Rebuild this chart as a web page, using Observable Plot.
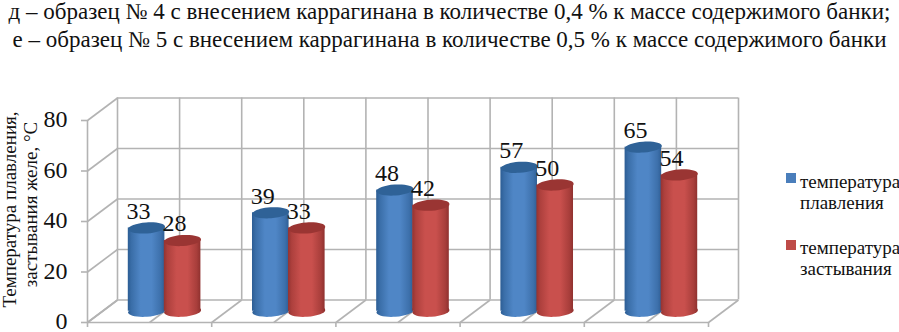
<!DOCTYPE html>
<html><head><meta charset="utf-8">
<script src="https://cdn.jsdelivr.net/npm/d3@7"></script>
<script src="https://cdn.jsdelivr.net/npm/@observablehq/plot@0.6"></script>
<style>
html,body{margin:0;padding:0;background:#fff;overflow:hidden}
#wrap{position:relative;width:899px;height:332px;font-family:"Liberation Serif",serif;color:#111}
#head{position:absolute;left:0;top:-2px;width:899px;text-align:center;font-size:23px;line-height:28px;white-space:nowrap}
#chart{position:absolute;left:0;top:70px}
.lg{position:absolute;left:786px;font-size:19px;line-height:21px;white-space:nowrap}
.lg i{position:absolute;left:0;width:10px;height:10px}
.lg span{display:block;padding-left:14px}
</style></head><body>
<div id="wrap">
<div id="head">д – образец № 4 с внесением каррагинана в количестве 0,4 % к массе содержимого банки;<br>е – образец № 5 с внесением каррагинана в количестве 0,5 % к массе содержимого банки</div>
<div id="chart"></div>
<div class="lg" style="top:171px"><i style="top:2px;background:#4a7ebb"></i><span>температура<br>плавления</span></div>
<div class="lg" style="top:237px"><i style="top:3px;background:#be4b48"></i><span>температура<br>застывания</span></div>
</div>
<script>
const slots = [0, 1, 2, 3, 4];
const melting = [33, 39, 48, 57, 65];
const setting = [28, 33, 42, 50, 54];
const yTicks = [0, 20, 40, 60, 80];
const xTicks = [0, 1, 2, 3, 4, 5];
const axisTitle = ["Температура плавления,", "застывания желе, °C"];

const top0 = 70, H = 262;
const y0px = 323 - top0 - 1, y80px = 120 - top0;
const xL = 87, xR = 708;
const depthX = 30, depthY = 22.5;                // px of the 3-D box depth
const unitX = (xR - xL) / 5, unitY = (y0px - y80px) / 80;
const dX = depthX / unitX, dY = depthY / unitY;  // the same depth in data units
const grid = "#b3b3b3";
const serif = '"Liberation Serif", serif';

const tilted = (a, b, tilt) => ({draw(c) {
  const k = 0.5523, cs = Math.cos(tilt), sn = Math.sin(tilt);
  const P = (x, y) => [x * cs - y * sn, x * sn + y * cs];
  c.moveTo(...P(-a, 0));
  c.bezierCurveTo(...P(-a, -k*b), ...P(-k*a, -b), ...P(0, -b));
  c.bezierCurveTo(...P(k*a, -b), ...P(a, -k*b), ...P(a, 0));
  c.bezierCurveTo(...P(a, k*b), ...P(k*a, b), ...P(0, b));
  c.bezierCurveTo(...P(-k*a, b), ...P(-a, k*b), ...P(-a, 0));
  c.closePath();
}});
const cap = tilted(18.5, 5.5, -0.07);

const gradient = (id, stops) => {
  const g = d3.create("svg:linearGradient").attr("id", id);
  stops.forEach(([o, c]) => g.append("stop").attr("offset", o).attr("stop-color", c));
  return g.node();
};
const defs = () => {
  const d = d3.create("svg:defs");
  d.append(() => gradient("gBlue", [[0,"#2c5d94"],[0.1,"#3a6ea8"],[0.35,"#4f86c6"],[0.65,"#4f86c6"],[0.9,"#3d70ab"],[1,"#2f5f96"]]));
  d.append(() => gradient("gRed", [[0,"#933331"],[0.1,"#ad403d"],[0.35,"#c9504d"],[0.65,"#c9504d"],[0.9,"#a83e3b"],[1,"#8f312f"]]));
  return d.node();
};

const series = [
  {values: melting, off: 0.355, fill: "url(#gBlue)", top: "#2f6297"},
  {values: setting, off: 0.645, fill: "url(#gRed)", top: "#9a3533"}
];
const halfW = 18.3 / unitX;
const cylinder = s => {
  const rows = slots.map((c, i) => ({c: c + s.off, v: s.values[i]}));
  const shift = {dx: depthX / 2, dy: -depthY / 2};
  return [
    Plot.dot(rows, {x: "c", y: () => 0, r: 10, symbol: cap, fill: s.fill, ...shift}),
    Plot.rect(rows, {x1: d => d.c - halfW, x2: d => d.c + halfW, y1: () => 0, y2: "v", fill: s.fill, ...shift}),
    Plot.dot(rows, {x: "c", y: "v", r: 10, symbol: cap, fill: s.top, ...shift})
  ];
};
const midX = [0.5, 1.5, 2.5, 3.5, 4.5];
const line = {stroke: grid, strokeWidth: 1.6};
const label = {fill: "#111", fontFamily: serif};

const plot = Plot.plot({
  width: 899, height: H,
  marginLeft: 0, marginRight: 0, marginTop: 0, marginBottom: 0,
  style: {background: "transparent", overflow: "visible"},
  x: {type: "linear", domain: [0, 5], range: [xL, xR], axis: null},
  y: {type: "linear", domain: [0, 80], range: [y0px, y80px], axis: null},
  marks: [
    defs,
    // back wall
    Plot.ruleY(yTicks, {x1: () => dX, x2: () => 5 + dX, y: d => d + dY, ...line}),
    Plot.ruleX(xTicks, {x: d => d + dX, y1: () => dY, y2: () => 80 + dY, ...line}),
    Plot.ruleX(midX, {x: d => d + dX, y1: () => dY, y2: () => 80 + dY, ...line}),
    // side wall and floor
    Plot.link(yTicks, {x1: () => 0, y1: d => d, x2: () => dX, y2: d => d + dY, ...line}),
    Plot.link(xTicks, {x1: d => d, y1: () => 0, x2: d => d + dX, y2: () => dY, ...line}),
    Plot.link(midX, {x1: d => d, y1: () => 0, x2: d => d + dX, y2: () => dY, ...line}),
    // front axes with ticks
    Plot.ruleX([0], {x: d => d, y1: () => 0, y2: () => 80, ...line}),
    Plot.ruleY([0], {y: d => d, x1: () => 0, x2: () => 5, ...line}),
    Plot.ruleY(yTicks, {y: d => d, x1: () => -6 / unitX, x2: () => 0, ...line}),
    Plot.ruleX(xTicks, {x: d => d, y1: () => -5 / unitY, y2: () => 0, ...line}),
    ...series.flatMap(cylinder),
    // value labels
    Plot.text(slots, {x: d => d + 0.355, y: d => melting[d], text: d => String(melting[d]), dx: 7, dy: -28, fontSize: 24, ...label}),
    Plot.text(slots, {x: d => d + 0.645, y: d => setting[d], text: d => String(setting[d]), dx: 7, dy: -28, fontSize: 24, ...label}),
    // y tick labels
    Plot.text(yTicks, {x: () => 0, y: d => d, text: d => String(d), textAnchor: "end", dx: -20, dy: -1, fontSize: 24, ...label}),
    // axis title
    Plot.text([axisTitle[0]], {x: () => 0, y: () => 40, text: d => d, rotate: -90, dx: -77.5, dy: -12, fontSize: 19, ...label}),
    Plot.text([axisTitle[1]], {x: () => 0, y: () => 40, text: d => d, rotate: -90, dx: -57, dy: -17, fontSize: 19, ...label})
  ]
});
document.getElementById("chart").appendChild(plot);
</script>
</body></html>
